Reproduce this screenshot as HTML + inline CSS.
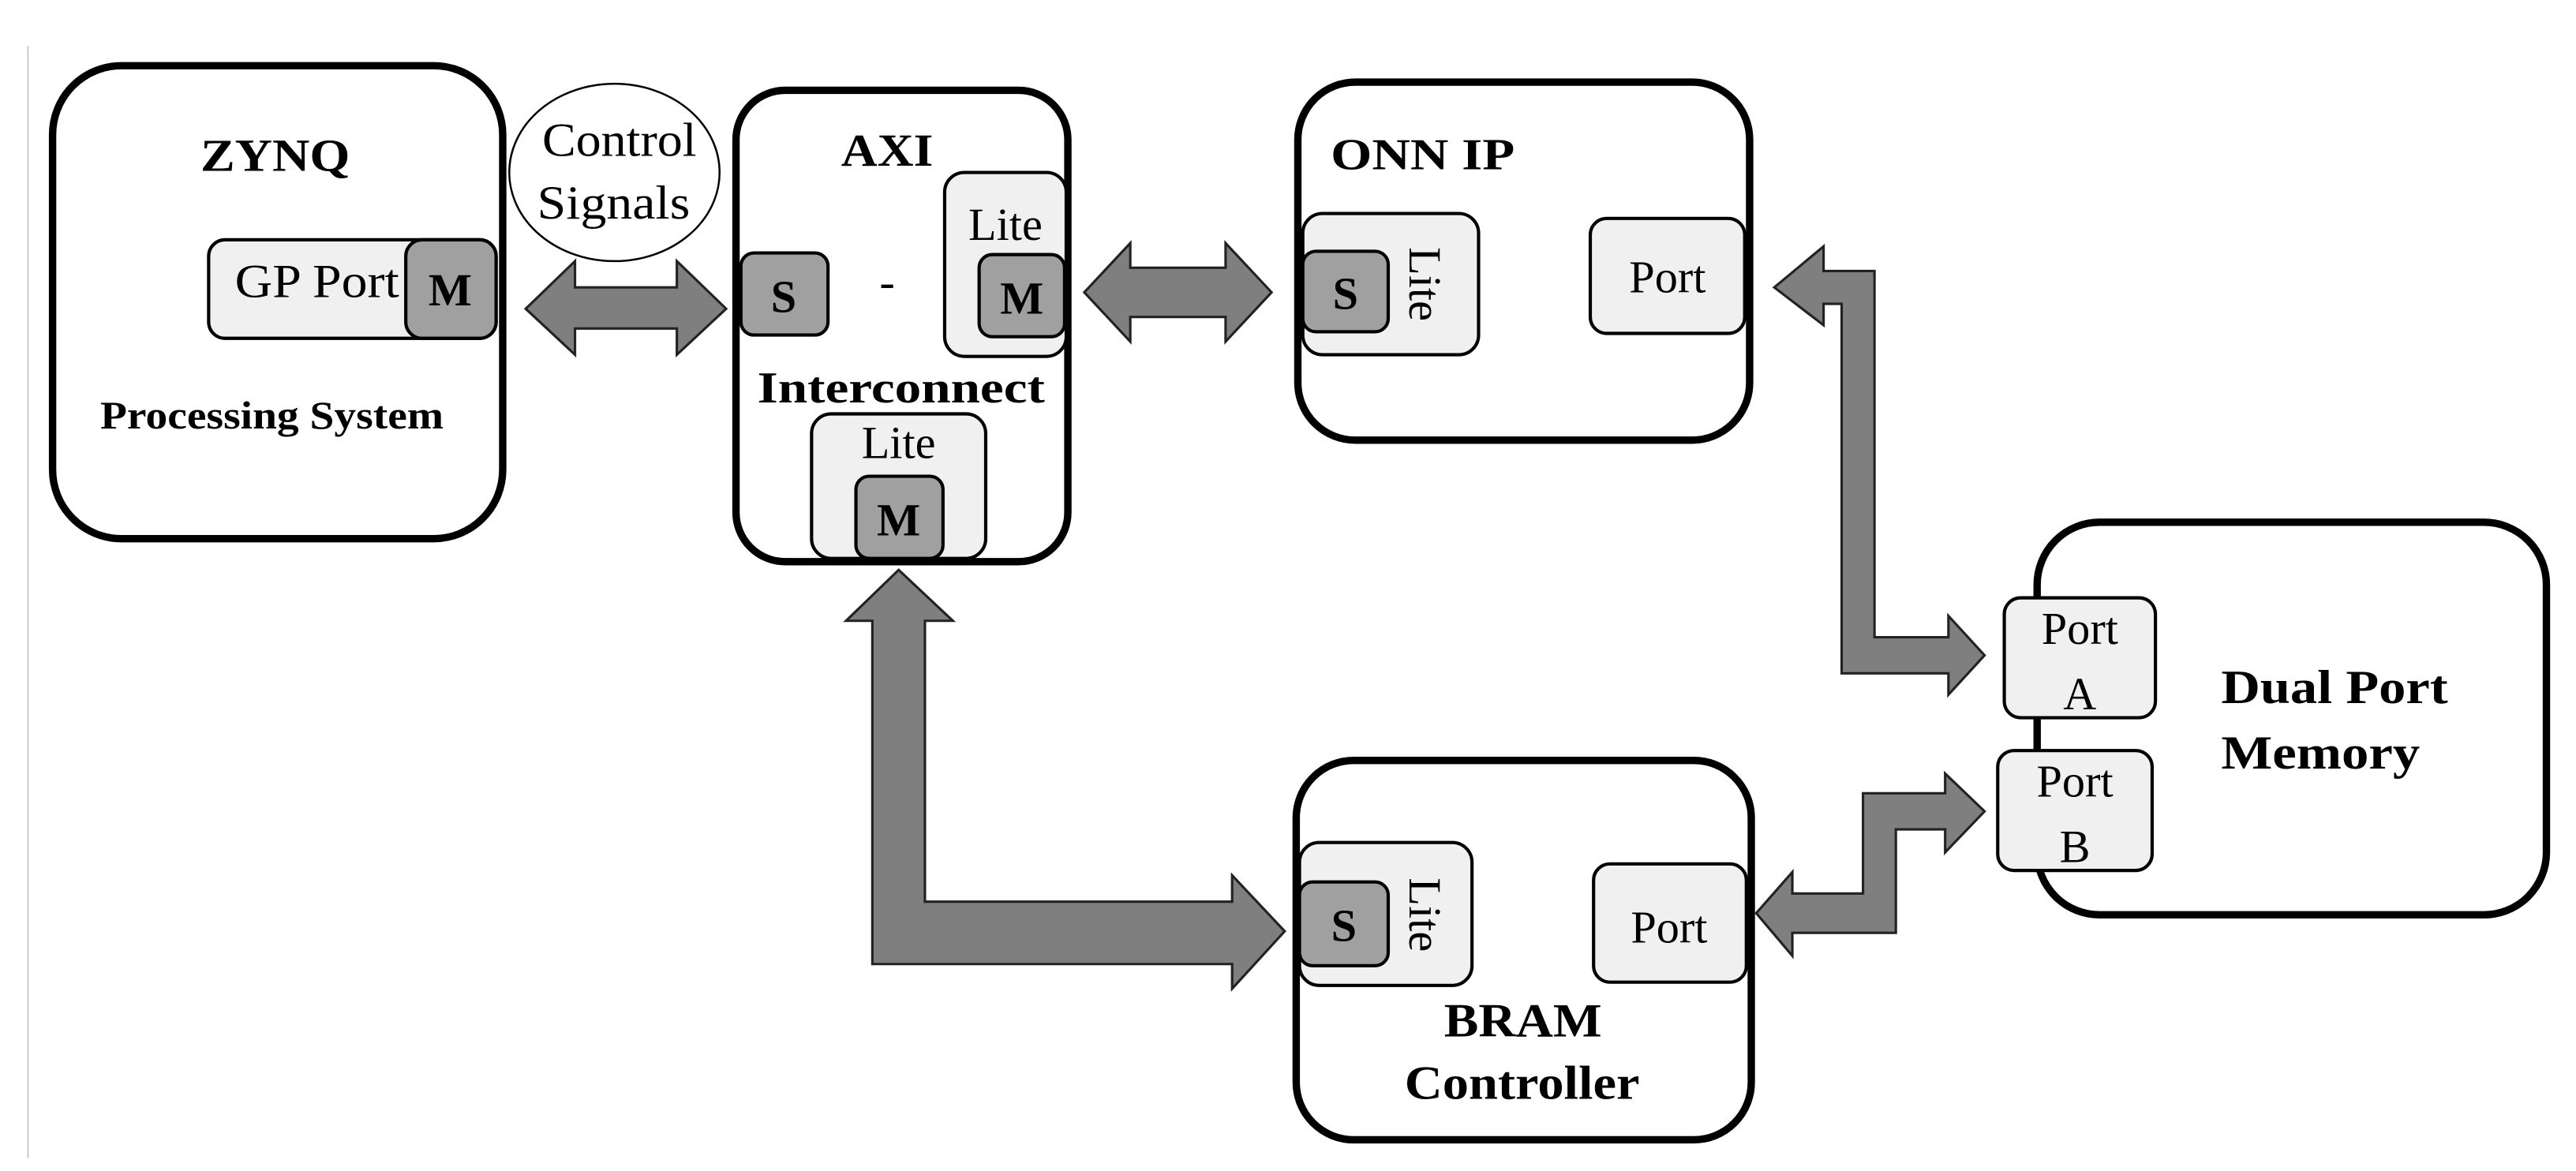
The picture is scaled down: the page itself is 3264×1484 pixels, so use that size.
<!DOCTYPE html>
<html><head><meta charset="utf-8"><style>html,body{margin:0;padding:0;background:#fff}svg{display:block}</style></head>
<body>
<svg width="3264" height="1484" viewBox="0 0 1568 713" preserveAspectRatio="none" xmlns="http://www.w3.org/2000/svg" font-family="Liberation Serif, serif">
<rect width="1568" height="713" fill="#fff"/>
<line x1="17" y1="28" x2="17" y2="705" stroke="#ccc" stroke-width="1"/>
<g fill="none" stroke="#000" stroke-width="4.5">
<rect x="32" y="40" width="274" height="288" rx="42"/>
<rect x="448" y="55" width="202" height="287" rx="30"/>
<rect x="790" y="50" width="275" height="218" rx="35"/>
<rect x="1240" y="318" width="310" height="239" rx="38"/>
<rect x="789" y="463" width="277" height="231" rx="35"/>
</g>
<ellipse cx="374" cy="105" rx="64" ry="54" fill="#fff" stroke="#000" stroke-width="1.2"/>
<g stroke="#000" stroke-width="2">
<rect x="127" y="146" width="175" height="60" rx="10" fill="#f0f0f0"/>
<rect x="247" y="146" width="55" height="60" rx="10" fill="#a0a0a0"/>
<rect x="451" y="154" width="53" height="50" rx="8" fill="#a0a0a0"/>
<rect x="575" y="105" width="74" height="112" rx="12" fill="#f0f0f0"/>
<rect x="596" y="155" width="52" height="50" rx="8" fill="#a0a0a0"/>
<rect x="494" y="252" width="106" height="88" rx="12" fill="#f0f0f0"/>
<rect x="521" y="290" width="53" height="50" rx="8" fill="#a0a0a0"/>
<rect x="793" y="130" width="107" height="86" rx="12" fill="#f0f0f0"/>
<rect x="793" y="153" width="52" height="49" rx="8" fill="#a0a0a0"/>
<rect x="968" y="133" width="94" height="70" rx="10" fill="#f0f0f0"/>
<rect x="1220" y="364" width="92" height="73" rx="10" fill="#f0f0f0"/>
<rect x="1216" y="457" width="94" height="73" rx="10" fill="#f0f0f0"/>
<rect x="791" y="513" width="105" height="87" rx="12" fill="#f0f0f0"/>
<rect x="791" y="537" width="54" height="51" rx="8" fill="#a0a0a0"/>
<rect x="970" y="526" width="93" height="72" rx="10" fill="#f0f0f0"/>
</g>
<g fill="#7f7f7f" stroke="#222" stroke-width="1.5">
<polygon points="320,188 350,159 350,175 412,175 412,159 442,188 412,216 412,200 350,200 350,216"/>
<polygon points="660,178 688,148 688,163 746,163 746,148 774,178 746,208 746,193 688,193 688,208"/>
<polygon points="547,347 580,378 563,378 563,549 750,549 750,533 782,567 750,602 750,587 531,587 531,378 515,378"/>
<polygon points="1080,175 1110,150 1110,165 1141,165 1141,388 1186,388 1186,375 1208,399 1186,423 1186,410 1121,410 1121,185 1110,185 1110,198"/>
<polygon points="1069,556 1091,531 1091,544 1134,544 1134,483 1184,483 1184,471 1208,494 1184,519 1184,505 1154,505 1154,568 1091,568 1091,582"/>
</g>
<g font-weight="bold" fill="#000" lengthAdjust="spacingAndGlyphs">
<text x="122" y="104" font-size="28" textLength="91" lengthAdjust="spacingAndGlyphs">ZYNQ</text>
<text x="61" y="261" font-size="24" textLength="209" lengthAdjust="spacingAndGlyphs">Processing System</text>
<text x="512" y="101" font-size="28" textLength="56" lengthAdjust="spacingAndGlyphs">AXI</text>
<text x="461" y="245" font-size="27" textLength="175" lengthAdjust="spacingAndGlyphs">Interconnect</text>
<text x="810" y="103" font-size="27" textLength="112" lengthAdjust="spacingAndGlyphs">ONN IP</text>
<text x="1352" y="428" font-size="29" textLength="138" lengthAdjust="spacingAndGlyphs">Dual Port</text>
<text x="1352" y="468" font-size="29" textLength="121" lengthAdjust="spacingAndGlyphs">Memory</text>
<text x="879" y="631" font-size="29" textLength="96" lengthAdjust="spacingAndGlyphs">BRAM</text>
<text x="855" y="669" font-size="29" textLength="143" lengthAdjust="spacingAndGlyphs">Controller</text>
</g>
<g font-weight="bold" text-anchor="middle" fill="#000">
<text x="274" y="186" font-size="28">M</text>
<text x="477" y="190" font-size="28">S</text>
<text x="622" y="191" font-size="28">M</text>
<text x="547" y="326" font-size="28">M</text>
<text x="819" y="188" font-size="28">S</text>
<text x="818" y="573" font-size="28">S</text>
</g>
<g fill="#000" font-size="29">
<text x="330" y="95" textLength="94" lengthAdjust="spacingAndGlyphs">Control</text>
<text x="327" y="133" textLength="93" lengthAdjust="spacingAndGlyphs">Signals</text>
<text x="143" y="181" textLength="100" lengthAdjust="spacingAndGlyphs">GP Port</text>
</g>
<g text-anchor="middle" fill="#000" font-size="28">
<text x="540" y="181">-</text>
<text x="612" y="146">Lite</text>
<text x="547" y="279">Lite</text>
<text x="1015" y="178">Port</text>
<text x="1266" y="392">Port</text>
<text x="1266" y="432">A</text>
<text x="1263" y="485">Port</text>
<text x="1263" y="525">B</text>
<text x="1016" y="574">Port</text>
<text transform="translate(858,173) rotate(90)">Lite</text>
<text transform="translate(858,557) rotate(90)">Lite</text>
</g>
</svg>
</body></html>
